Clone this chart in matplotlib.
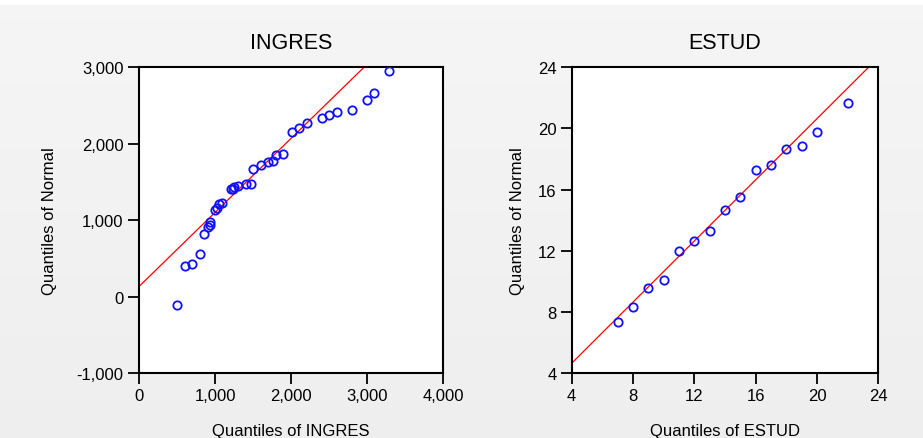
import numpy as np
import matplotlib
matplotlib.use("Agg")
import matplotlib.pyplot as plt
from matplotlib import font_manager

# Sample quantiles (x) against normal quantiles (y)
ingres_x = [501, 611, 699, 808, 857, 909, 936, 940, 1006, 1032, 1046, 1094,
            1204, 1235, 1255, 1296, 1410, 1480, 1498, 1608, 1691, 1762, 1797,
            1894, 2012, 2100, 2205, 2403, 2495, 2605, 2803, 3001, 3093, 3291]
ingres_y = [-105, 404, 426, 558, 825, 917, 934, 979, 1132, 1154, 1207, 1229,
            1404, 1413, 1428, 1452, 1470, 1470, 1667, 1720, 1759, 1777, 1852,
            1869, 2154, 2203, 2269, 2334, 2378, 2421, 2444, 2575, 2667, 2953]
ingres_line_x = [0, 2960]
ingres_line_y = [132, 3000]

estud_x = [7, 8, 9, 10, 11, 12, 13, 14, 15, 16, 17, 18, 19, 20, 22]
estud_y = [7.33, 8.32, 9.55, 10.1, 11.98, 12.64, 13.32, 14.64, 15.51,
           17.31, 17.64, 18.63, 18.87, 19.77, 21.65]
estud_line_x = [4, 23.36]
estud_line_y = [4.64, 24]

ingres_ticks = [0, 1000, 2000, 3000, 4000]
ingres_yticks = [-1000, 0, 1000, 2000, 3000]
estud_ticks = [4, 8, 12, 16, 20, 24]

names = {f.name for f in font_manager.fontManager.ttflist}
narrow = "Liberation Sans Narrow" if "Liberation Sans Narrow" in names else "Liberation Sans"
plt.rcParams["font.family"] = ["Liberation Sans", "DejaVu Sans"]

fig = plt.figure(figsize=(9.23, 4.39), dpi=100)

# soft grey backdrop with a white strip along the top
bg = fig.add_axes([0, 0, 1, 1], zorder=-10)
grad = np.linspace(0.935, 0.962, 256).reshape(-1, 1)
bg.imshow(np.dstack([grad, grad, grad]), aspect="auto", extent=[0, 1, 0, 1],
          origin="lower")
bg.axhspan(0.988, 1.0, color="white")
bg.set_xlim(0, 1)
bg.set_ylim(0, 1)
bg.axis("off")


def panel(rect, x, y, lx, ly, title, xlabel, xlim, ylim, xt, yt, fmt, ypad):
    ax = fig.add_axes(rect)
    ax.set_facecolor("white")
    ax.plot(lx, ly, color="red", lw=0.9, zorder=2)
    ax.plot(x, y, linestyle="none", marker="o", markersize=6,
            markerfacecolor="none", markeredgecolor="#1010ff",
            markeredgewidth=1.3, zorder=3)
    ax.set_xlim(*xlim)
    ax.set_ylim(*ylim)
    ax.set_xticks(xt)
    ax.set_yticks(yt)
    ax.set_xticklabels([fmt(v) for v in xt])
    ax.set_yticklabels([fmt(v) for v in yt])
    ax.tick_params(direction="out", length=8, width=1.3, labelsize=12,
                   pad=3, colors="black")
    for s in ax.spines.values():
        s.set_linewidth(1.5)
    ax.set_title(title, fontsize=15.5, family=[narrow, "DejaVu Sans"], pad=14)
    ax.set_xlabel(xlabel, fontsize=12, labelpad=14)
    ax.set_ylabel("Quantiles of Normal", fontsize=12, labelpad=ypad)
    return ax


panel([0.1506, 0.148, 0.3294, 0.6964], ingres_x, ingres_y,
      ingres_line_x, ingres_line_y, "INGRES", "Quantiles of INGRES",
      (0, 4000), (-1000, 3000), ingres_ticks, ingres_yticks,
      lambda v: f"{v:,}", 14)
panel([0.6194, 0.148, 0.3322, 0.6964], estud_x, estud_y,
      estud_line_x, estud_line_y, "ESTUD", "Quantiles of ESTUD",
      (4, 24), (4, 24), estud_ticks, estud_ticks,
      lambda v: f"{v}", 9)

fig.savefig("out.png", dpi=100)
